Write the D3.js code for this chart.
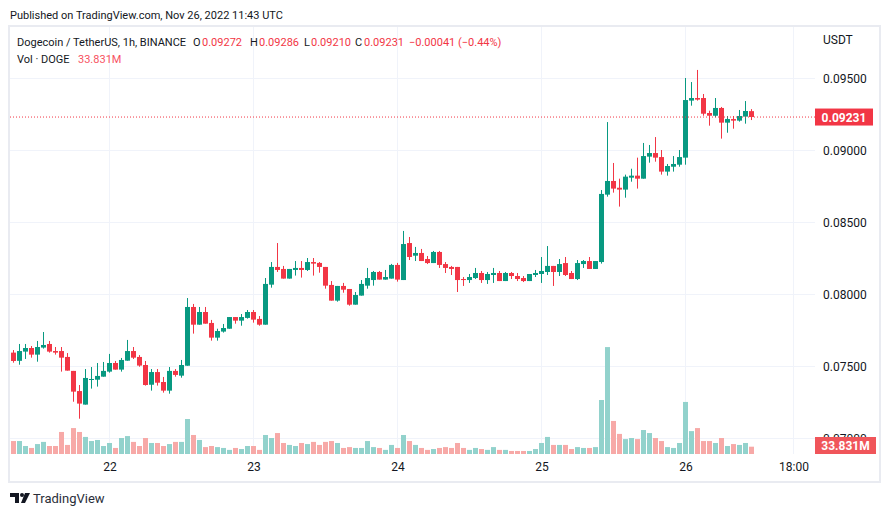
<!DOCTYPE html>
<html>
<head>
<meta charset="utf-8">
<script src="https://cdn.jsdelivr.net/npm/d3@7"></script>
<style>
  body { margin: 0; background: #fff; }
  svg { display: block; font-family: Roboto, "Noto Sans", sans-serif; }
</style>
</head>
<body>
<svg id="chart" width="891" height="517"></svg>
<script>
// Dogecoin / TetherUS 1h candles, Nov 21 08:00 -> Nov 26 11:00 UTC
const open = [
  0.07595,0.07538,0.07602,0.07627,0.07581,0.07630,0.07655,0.07606,0.07606,0.07565,
  0.07468,0.07328,0.07234,0.07405,0.07407,0.07428,0.07463,0.07523,0.07477,0.07539,
  0.07606,0.07565,0.07509,0.07372,0.07460,0.07391,0.07331,0.07468,0.07435,0.07504,
  0.07912,0.07789,0.07877,0.07801,0.07699,0.07741,0.07761,0.07842,0.07817,0.07836,
  0.07877,0.07829,0.07789,0.08067,0.08190,0.08176,0.08109,0.08169,0.08183,0.08169,
  0.08224,0.08218,0.08190,0.08065,0.07956,0.08058,0.08037,0.07928,0.07991,0.08060,
  0.08099,0.08155,0.08102,0.08109,0.08204,0.08099,0.08356,0.08268,0.08287,0.08245,
  0.08217,0.08294,0.08210,0.08190,0.08190,0.08106,0.08099,0.08113,0.08148,0.08099,
  0.08134,0.08148,0.08092,0.08148,0.08127,0.08113,0.08092,0.08134,0.08141,0.08155,
  0.08197,0.08155,0.08217,0.08148,0.08106,0.08210,0.08231,0.08176,0.08224,0.08692,
  0.08787,0.08740,0.08727,0.08810,0.08824,0.08803,0.08956,0.08981,0.08953,0.08852,
  0.08886,0.08900,0.08949,0.09345,0.09363,0.09363,0.09259,0.09240,0.09294,0.09192,
  0.09217,0.09206,0.09234,0.09272
]
const high = [
  0.07613,0.07655,0.07655,0.07641,0.07676,0.07738,0.07676,0.07634,0.07634,0.07592,
  0.07468,0.07370,0.07481,0.07495,0.07523,0.07530,0.07586,0.07537,0.07558,0.07683,
  0.07634,0.07578,0.07537,0.07481,0.07481,0.07426,0.07495,0.07481,0.07544,0.07974,
  0.07933,0.07912,0.07912,0.07822,0.07761,0.07794,0.07842,0.07842,0.07863,0.07891,
  0.07891,0.07849,0.08113,0.08224,0.08356,0.08197,0.08176,0.08231,0.08231,0.08252,
  0.08252,0.08224,0.08190,0.08092,0.08058,0.08079,0.08037,0.08016,0.08099,0.08183,
  0.08162,0.08162,0.08169,0.08211,0.08218,0.08440,0.08398,0.08329,0.08315,0.08266,
  0.08301,0.08301,0.08224,0.08197,0.08190,0.08120,0.08141,0.08183,0.08162,0.08155,
  0.08183,0.08162,0.08155,0.08155,0.08148,0.08127,0.08141,0.08169,0.08259,0.08335,
  0.08197,0.08245,0.08259,0.08162,0.08238,0.08238,0.08259,0.08231,0.08724,0.09196,
  0.08912,0.08803,0.08831,0.08872,0.08949,0.09051,0.09037,0.09092,0.09002,0.08905,
  0.08960,0.09002,0.09502,0.09474,0.09558,0.09391,0.09275,0.09363,0.09301,0.09238,
  0.09238,0.09280,0.09342,0.09286
]
const low = [
  0.07525,0.07511,0.07551,0.07560,0.07532,0.07623,0.07595,0.07581,0.07463,0.07470,
  0.07254,0.07136,0.07234,0.07345,0.07359,0.07428,0.07456,0.07477,0.07463,0.07539,
  0.07551,0.07497,0.07366,0.07331,0.07366,0.07317,0.07310,0.07428,0.07421,0.07504,
  0.07727,0.07789,0.07796,0.07678,0.07678,0.07734,0.07761,0.07796,0.07782,0.07831,
  0.07803,0.07782,0.07789,0.08046,0.08155,0.08109,0.08109,0.08130,0.08116,0.08162,
  0.08130,0.08150,0.08039,0.07956,0.07949,0.08011,0.07921,0.07928,0.07991,0.08039,
  0.08060,0.08102,0.08102,0.08109,0.08088,0.08099,0.08238,0.08231,0.08231,0.08210,
  0.08217,0.08183,0.08148,0.08134,0.08016,0.08058,0.08079,0.08106,0.08079,0.08072,
  0.08079,0.08092,0.08092,0.08106,0.08092,0.08085,0.08092,0.08120,0.08079,0.08134,
  0.08058,0.08127,0.08127,0.08106,0.08099,0.08183,0.08176,0.08176,0.08213,0.08678,
  0.08706,0.08609,0.08671,0.08782,0.08734,0.08803,0.08914,0.08921,0.08831,0.08824,
  0.08852,0.08886,0.08900,0.09310,0.09345,0.09240,0.09171,0.09229,0.09081,0.09122,
  0.09150,0.09199,0.09185,0.09210
]
const close = [
  0.07537,0.07606,0.07627,0.07581,0.07634,0.07648,0.07602,0.07595,0.07560,0.07470,
  0.07324,0.07241,0.07419,0.07412,0.07433,0.07468,0.07523,0.07477,0.07544,0.07606,
  0.07560,0.07505,0.07370,0.07460,0.07386,0.07331,0.07468,0.07440,0.07509,0.07912,
  0.07789,0.07877,0.07796,0.07699,0.07745,0.07766,0.07842,0.07817,0.07842,0.07877,
  0.07824,0.07789,0.08072,0.08190,0.08169,0.08109,0.08176,0.08183,0.08169,0.08224,
  0.08213,0.08190,0.08060,0.07956,0.08058,0.08032,0.07928,0.07995,0.08072,0.08113,
  0.08155,0.08102,0.08120,0.08204,0.08102,0.08349,0.08259,0.08287,0.08231,0.08217,
  0.08294,0.08204,0.08183,0.08176,0.08099,0.08099,0.08120,0.08148,0.08099,0.08141,
  0.08148,0.08092,0.08148,0.08127,0.08106,0.08092,0.08141,0.08148,0.08162,0.08197,
  0.08155,0.08210,0.08134,0.08106,0.08217,0.08231,0.08176,0.08231,0.08697,0.08787,
  0.08734,0.08727,0.08817,0.08824,0.08803,0.08960,0.08981,0.08949,0.08852,0.08891,
  0.08905,0.08953,0.09349,0.09363,0.09352,0.09254,0.09240,0.09294,0.09192,0.09217,
  0.09206,0.09238,0.09273,0.09231
]
// volume, millions of DOGE
const volume = [
  60,60,37,28,46,56,37,37,102,42,
  120,102,79,60,65,37,51,28,74,83,
  56,37,74,51,51,37,46,56,56,162,
  88,65,32,37,32,28,19,28,23,37,
  37,19,88,74,97,51,42,37,51,46,
  56,42,56,60,51,28,32,28,28,60,
  32,28,19,42,28,88,60,42,28,19,
  23,28,32,28,51,28,19,28,23,19,
  32,19,19,14,14,14,14,23,51,79,
  42,42,42,23,32,28,28,32,250,495,
  153,93,69,74,69,111,97,74,60,32,
  28,51,241,106,120,60,60,51,74,37,
  46,42,51,33.831
]

const priceTicks = [0.070, 0.075, 0.080, 0.085, 0.090, 0.095]
const timeTicks = [
  Date.UTC(2022, 10, 22), Date.UTC(2022, 10, 23), Date.UTC(2022, 10, 24),
  Date.UTC(2022, 10, 25), Date.UTC(2022, 10, 26), Date.UTC(2022, 10, 26, 18)
]
const timeLabels = ['22', '23', '24', '25', '26', '18:00']
const lastPrice = 0.09231
const lastVolume = '33.831M'
const change = '\u22120.00041 (\u22120.44%)'

const up = '#089981', down = '#f23645'
const upVol = '#92d2cc', downVol = '#f7a9a7'
const ink = '#131722'

const candles = open.map((o, i) => ({
  t: Date.UTC(2022, 10, 21, 8 + i),
  o, h: high[i], l: low[i], c: close[i], v: volume[i]
}))

const svg = d3.select('#chart')

const x = d3.scaleUtc()
  .domain([Date.UTC(2022, 10, 21, 8), Date.UTC(2022, 10, 26, 18)])
  .range([13.5, 793.5])

const y = d3.scaleLinear()
  .domain([0.070, 0.095])
  .range([438.3, 78.3])

const yVol = d3.scaleLinear()
  .domain([0, 500])
  .range([454, 346])

// header
svg.append('text')
  .attr('x', 10).attr('y', 19)
  .attr('font-size', 11).attr('fill', ink)
  .text('Published on TradingView.com, Nov 26, 2022 11:43 UTC')

// frame
svg.append('rect')
  .attr('x', 9).attr('y', 26).attr('width', 871).attr('height', 456)
  .attr('fill', 'none').attr('stroke', '#e9ebf1').attr('stroke-width', 2)

// grid
svg.append('g').selectAll('line')
  .data(priceTicks)
  .join('line')
  .attr('x1', 10).attr('x2', 815)
  .attr('y1', d => Math.round(y(d)) + 0.5).attr('y2', d => Math.round(y(d)) + 0.5)
  .attr('stroke', '#f0f3fa')

svg.append('g').selectAll('line')
  .data(timeTicks)
  .join('line')
  .attr('x1', d => x(d)).attr('x2', d => x(d))
  .attr('y1', 27).attr('y2', 454)
  .attr('stroke', '#f0f3fa')

// volume bars
svg.append('g').selectAll('rect')
  .data(candles)
  .join('rect')
  .attr('x', d => x(d.t) - 2.5)
  .attr('width', 5)
  .attr('y', d => yVol(d.v))
  .attr('height', d => 454 - yVol(d.v))
  .attr('fill', d => d.c >= d.o ? upVol : downVol)

// candles
const cg = svg.append('g')
cg.selectAll('line')
  .data(candles)
  .join('line')
  .attr('x1', d => x(d.t)).attr('x2', d => x(d.t))
  .attr('y1', d => y(d.h)).attr('y2', d => y(d.l))
  .attr('stroke', d => d.c >= d.o ? up : down)

cg.selectAll('rect')
  .data(candles)
  .join('rect')
  .attr('x', d => x(d.t) - 2.5)
  .attr('width', 5)
  .attr('y', d => y(Math.max(d.o, d.c)))
  .attr('height', d => Math.max(1, Math.abs(y(d.o) - y(d.c))))
  .attr('fill', d => d.c >= d.o ? up : down)

// last price line
svg.append('line')
  .attr('x1', 10).attr('x2', 815)
  .attr('y1', y(lastPrice)).attr('y2', y(lastPrice))
  .attr('stroke', down).attr('stroke-dasharray', '1,2')

// axes
const yAxis = svg.append('g')
  .attr('transform', 'translate(815,0)')
  .call(d3.axisRight(y).tickValues(priceTicks).tickFormat(d3.format('.5f')).tickSize(0).tickPadding(8))
yAxis.select('.domain').remove()
yAxis.selectAll('text').attr('font-size', 12).attr('fill', ink).attr('font-family', 'Roboto')

svg.append('text')
  .attr('x', 823).attr('y', 44)
  .attr('font-size', 12).attr('fill', ink)
  .text('USDT')

const xAxis = svg.append('g')
  .attr('transform', 'translate(0,454)')
  .call(d3.axisBottom(x).tickValues(timeTicks).tickFormat((d, i) => timeLabels[i]).tickSize(0).tickPadding(8))
xAxis.select('.domain').remove()
xAxis.selectAll('text').attr('font-size', 12).attr('fill', ink).attr('font-family', 'Roboto')

// price and volume labels on the scale
svg.append('rect')
  .attr('x', 815).attr('y', y(lastPrice) - 8.5).attr('width', 58).attr('height', 17)
  .attr('fill', down)
svg.append('text')
  .attr('x', 844).attr('y', y(lastPrice) + 4.5)
  .attr('text-anchor', 'middle').attr('font-size', 12).attr('font-weight', 'bold')
  .attr('fill', '#fff')
  .text(d3.format('.5f')(lastPrice))

svg.append('rect')
  .attr('x', 815).attr('y', 437).attr('width', 61).attr('height', 17)
  .attr('fill', '#f0555a')
svg.append('text')
  .attr('x', 845.5).attr('y', 450)
  .attr('text-anchor', 'middle').attr('font-size', 12).attr('font-weight', 'bold')
  .attr('fill', '#fff')
  .text(lastVolume)

// legend
const fmt = d3.format('.5f')
const last = candles[candles.length - 1]
const leg = svg.append('text').attr('font-size', 11).attr('fill', ink).attr('y', 46)
leg.append('tspan').attr('x', 17).text('Dogecoin / TetherUS, 1h, BINANCE')
const parts = [
  ['O', last.o, 193, 202], ['H', last.h, 250, 259],
  ['L', last.l, 304, 311], ['C', last.c, 355, 364]
]
parts.forEach(p => {
  leg.append('tspan').attr('x', p[2]).text(p[0])
  leg.append('tspan').attr('x', p[3]).attr('fill', down).text(fmt(p[1]))
})
leg.append('tspan').attr('x', 409).attr('fill', down).text(change)

const leg2 = svg.append('text').attr('font-size', 11).attr('fill', ink).attr('y', 63)
leg2.append('tspan').attr('x', 17).text('Vol \u00b7 DOGE')
leg2.append('tspan').attr('x', 78).attr('fill', '#f7525f').text(lastVolume)

// TradingView logo
const logo = svg.append('g').attr('fill', ink)
logo.append('path').attr('d', 'M10,493 h9 v10 h-4 v-6 h-5 z')
logo.append('circle').attr('cx', 22).attr('cy', 495).attr('r', 2)
logo.append('path').attr('d', 'M25,493 h5 l-5,10 h-4 z')
svg.append('text')
  .attr('x', 33).attr('y', 503)
  .attr('font-size', 13).attr('fill', '#2a2e39')
  .text('TradingView')
</script>
</body>
</html>
